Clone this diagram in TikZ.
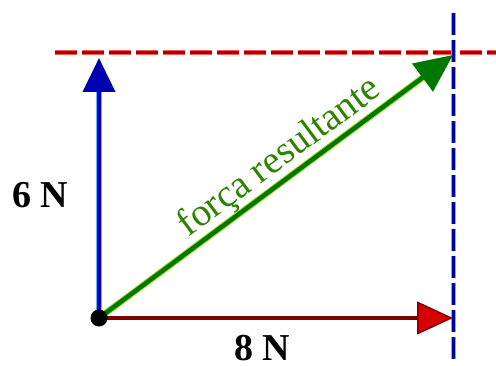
\documentclass[tikz,border=0pt]{standalone}
\usepackage{fontspec}
\setmainfont{Liberation Serif}
\usetikzlibrary{arrows.meta}
\definecolor{vblue}{RGB}{0,0,175}
\definecolor{vbluehalo}{RGB}{90,180,255}
\definecolor{vred}{RGB}{125,0,0}
\definecolor{vredtip}{RGB}{215,0,0}
\definecolor{vgreen}{RGB}{0,120,0}
\definecolor{vgreenhalo}{RGB}{170,220,40}
\definecolor{dred}{RGB}{170,0,0}
\definecolor{dredhalo}{RGB}{255,90,90}
\definecolor{dblue}{RGB}{0,0,160}
\definecolor{tgreen}{RGB}{45,130,0}
\tikzset{
  vec/.style={line width=4pt},
  guide/.style={line width=3pt, dash pattern=on 22pt off 5pt},
  guidehalo/.style={line width=5pt, dash pattern=on 22pt off 5pt},
  lbl/.style={font=\fontsize{38}{40}\selectfont\bfseries, inner sep=0pt},
  glbl/.style={font=\fontsize{39}{41}\selectfont, text=tgreen, inner sep=0pt},
}
\begin{document}
\begin{tikzpicture}[x=1pt,y=1pt]
\useasboundingbox (0,0) rectangle (496,365);
\coordinate (O) at (99,47);
\coordinate (A) at (99,307);
\coordinate (B) at (453,47);
\coordinate (R) at (453,310);
\coordinate (dl) at (55,312);
\coordinate (dr) at (496,312);
\coordinate (dt) at (453,352);
\coordinate (db) at (453,5);
% guide lines
\draw[guidehalo, dredhalo] (dl) -- (dr);
\draw[guide, dred] (dl) -- (dr);
\draw[guidehalo, vbluehalo] (dt) -- (db);
\draw[guide, dblue] (dt) -- (db);
% vectors
\draw[vec, vbluehalo, line width=6pt, shorten >=30pt] (O) -- (A);
\draw[vec, vblue, -{Triangle[length=34pt,width=32pt]}] (O) -- (A);
\draw[vec, vred, -{Triangle[length=36pt,width=33pt,fill=vredtip,line width=1.5pt]}] (O) -- (B);
\draw[vec, vgreenhalo, line width=6.5pt, shorten >=32pt] (O) -- (R);
\draw[vec, vgreen, line width=4.5pt, -{Triangle[length=38pt,width=34pt]}] (O) -- (R);
\fill (O) circle (8.5pt);
\node[circle, fill, minimum size=1pt, inner sep=0pt] (o) at (O) {};
% labels
\node[lbl] (six) at (40,170) {6 N};
\node[lbl] (eight) at (262,17) {8 N};
\node[glbl, anchor=base, rotate=36.6] (fr) at (285.7,199.4) {força resultante};
\end{tikzpicture}
\end{document}
